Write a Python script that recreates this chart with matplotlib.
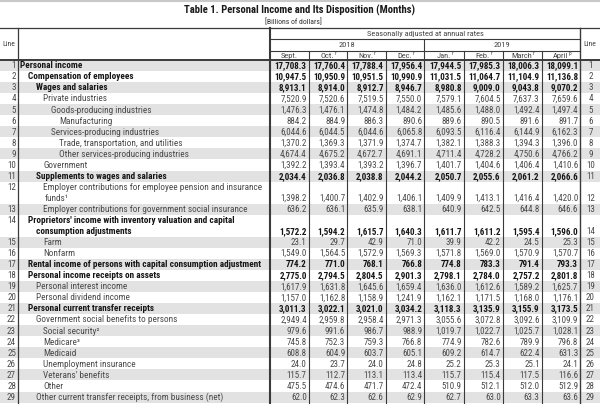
import matplotlib
matplotlib.use('Agg')
import matplotlib.pyplot as plt
from matplotlib import font_manager as fm
from matplotlib.patches import Rectangle

# ---------------- data ----------------
line_nums = list(range(1, 30))
labels = [
    "Personal income",
    "Compensation of employees",
    "Wages and salaries",
    "Private industries",
    "Goods-producing industries",
    "Manufacturing",
    "Services-producing industries",
    "Trade, transportation, and utilities",
    "Other services-producing industries",
    "Government",
    "Supplements to wages and salaries",
    "Employer contributions for employee pension and insurance\nfunds\u00b9",
    "Employer contributions for government social insurance",
    "Proprietors' income with inventory valuation and capital\nconsumption adjustments",
    "Farm",
    "Nonfarm",
    "Rental income of persons with capital consumption adjustment",
    "Personal income receipts on assets",
    "Personal interest income",
    "Personal dividend income",
    "Personal current transfer receipts",
    "Government social benefits to persons",
    "Social security\u00b2",
    "Medicare\u00b3",
    "Medicaid",
    "Unemployment insurance",
    "Veterans' benefits",
    "Other",
    "Other current transfer receipts, from business (net)",
]
levels = [0, 1, 2, 3, 4, 5, 4, 5, 5, 3, 2, 3, 3, 1, 3, 3, 1, 1, 2, 2, 1, 2, 3, 3, 3, 3, 3, 3, 2]
bold_rows = [1, 2, 3, 11, 14, 17, 18, 21]

months = ["Sept.", "Oct.", "Nov.", "Dec.", "Jan.", "Feb.", "March", "April"]
month_marks = ["", "r", "r", "r", "r", "r", "r", "p"]
years = ["2018", "2019"]

sept = [17708.3, 10947.5, 8913.1, 7520.9, 1476.3, 884.2, 6044.6, 1370.2, 4674.4, 1392.2, 2034.4, 1398.2, 636.2, 1572.2, 23.1, 1549.0, 774.2, 2775.0, 1617.9, 1157.0, 3011.3, 2949.4, 979.6, 745.8, 608.8, 24.0, 115.7, 475.5, 62.0]
octo = [17760.4, 10950.9, 8914.0, 7520.6, 1476.1, 884.9, 6044.5, 1369.3, 4675.2, 1393.4, 2036.8, 1400.7, 636.1, 1594.2, 29.7, 1564.5, 771.0, 2794.5, 1631.8, 1162.8, 3022.1, 2959.8, 991.6, 752.3, 604.9, 23.7, 112.7, 474.6, 62.3]
nov = [17788.4, 10951.5, 8912.7, 7519.5, 1474.8, 886.3, 6044.6, 1371.9, 4672.7, 1393.2, 2038.8, 1402.9, 635.9, 1615.7, 42.9, 1572.9, 768.1, 2804.5, 1645.6, 1158.9, 3021.0, 2958.4, 986.7, 759.3, 603.7, 24.0, 113.1, 471.7, 62.6]
dec = [17956.4, 10990.9, 8946.7, 7550.0, 1484.2, 890.6, 6065.8, 1374.7, 4691.1, 1396.7, 2044.2, 1406.1, 638.1, 1640.3, 71.0, 1569.3, 766.8, 2901.3, 1659.4, 1241.9, 3034.2, 2971.3, 988.9, 766.8, 605.1, 24.8, 113.4, 472.4, 62.9]
jan = [17944.5, 11031.5, 8980.8, 7579.1, 1485.6, 889.6, 6093.5, 1382.1, 4711.4, 1401.7, 2050.7, 1409.9, 640.9, 1611.7, 39.9, 1571.8, 774.8, 2798.1, 1636.0, 1162.1, 3118.3, 3055.6, 1019.7, 774.9, 609.2, 25.2, 115.7, 510.9, 62.7]
feb = [17985.3, 11064.7, 9009.0, 7604.5, 1488.0, 890.5, 6116.4, 1388.3, 4728.2, 1404.6, 2055.6, 1413.1, 642.5, 1611.2, 42.2, 1569.0, 783.3, 2784.0, 1612.6, 1171.5, 3135.9, 3072.8, 1022.7, 782.6, 614.7, 25.3, 115.4, 512.1, 63.0]
mar = [18006.3, 11104.9, 9043.8, 7637.3, 1492.4, 891.6, 6144.9, 1394.3, 4750.6, 1406.4, 2061.2, 1416.4, 644.8, 1595.4, 24.5, 1570.9, 791.4, 2757.2, 1589.2, 1168.0, 3155.9, 3092.6, 1025.7, 789.9, 622.4, 25.1, 117.5, 512.0, 63.3]
apr = [18099.1, 11136.8, 9070.2, 7659.6, 1497.4, 891.7, 6162.3, 1396.0, 4766.2, 1410.6, 2066.6, 1420.0, 646.6, 1596.0, 25.3, 1570.7, 793.3, 2801.8, 1625.7, 1176.1, 3173.5, 3109.9, 1028.1, 796.8, 631.3, 24.1, 116.6, 512.9, 63.6]
series = [sept, octo, nov, dec, jan, feb, mar, apr]

title = "Table 1. Personal Income and Its Disposition (Months)"
subtitle = "[Billions of dollars]"
header_top = "Seasonally adjusted at annual rates"

# ---------------- fonts ----------------
names = {f.name for f in fm.fontManager.ttflist}
def pick(cands):
    for c in cands:
        if c in names:
            return c
    return 'DejaVu Sans'
NARROW = pick(['Liberation Sans Narrow', 'DejaVu Sans Condensed', 'Roboto Condensed',
               'Liberation Sans'])
FAM = [NARROW, 'DejaVu Sans']

# ---------------- layout ----------------
W, H = 600, 404
fig = plt.figure(figsize=(6, 4.04), dpi=100)
ax = fig.add_axes([0, 0, 1, 1])
ax.set_xlim(0, W)
ax.set_ylim(H, 0)
ax.axis('off')

LINE_C = '#3a3a3a'
SHADE = '#e2e2e2'
x_line = 18
x_lab = 270
col_edges = [270, 308.5, 347, 385.5, 424, 463.5, 502.5, 541.5, 580]
y_top, y_r1, y_r2, y_hb = 27.5, 39.0, 50.5, 60.0
rh = 11.05
FS_LAB = 6.7
FS_NUM = 6.5
C_BOLD = '#151515'
C_NORM = '#4a4a4a'

# title
ax.text(W / 2, 10.5, title, ha='center', va='center', fontsize=7.7, fontweight='bold',
        family=FAM, color='#1a1a1a')
ax.text(W / 2 - 7, 21.5, subtitle, ha='center', va='center', fontsize=5.6, family=FAM, color='#333333')
ax.plot([0, W], [0.8, 0.8], color='#c8c8c8', lw=1.5)

# row geometry
units = [2 if r in (12, 14) else 1 for r in line_nums]
tops = []
y = y_hb
for u in units:
    tops.append(y)
    y += u * rh
y_bottom = y

# shading
for r, t, u in zip(line_nums, tops, units):
    if r % 2 == 1:
        ax.add_patch(Rectangle((0, t), W, u * rh, color=SHADE, lw=0, zorder=0))

# grid lines
ax.plot([0, W], [y_top, y_top], color=LINE_C, lw=0.9)
ax.plot([0, W], [y_hb, y_hb], color=LINE_C, lw=1.4)
ax.plot([x_lab, col_edges[-1]], [y_r1, y_r1], color=LINE_C, lw=0.8)
ax.plot([x_lab, col_edges[-1]], [y_r2, y_r2], color=LINE_C, lw=0.8)
ax.plot([x_line, x_line], [y_top, y_bottom], color=LINE_C, lw=0.9)
ax.plot([x_lab, x_lab], [y_top, y_bottom], color=LINE_C, lw=1.5)
ax.plot([col_edges[-1], col_edges[-1]], [y_top, y_bottom], color=LINE_C, lw=1.0)
for i, xe in enumerate(col_edges[1:-1], start=1):
    y0 = y_r1 if i == 4 else y_r2
    ax.plot([xe, xe], [y0, y_bottom], color=LINE_C, lw=0.8)

# header text
ax.text(9, (y_top + y_hb) / 2, "Line", ha='center', va='center', fontsize=5.6, family=FAM, color='#444')
ax.text(590, (y_top + y_hb) / 2, "Line", ha='center', va='center', fontsize=5.6, family=FAM, color='#444')
ax.text((x_lab + col_edges[-1]) / 2, (y_top + y_r1) / 2 + 0.3, header_top, ha='center', va='center',
        fontsize=6.0, family=FAM, color='#444')
ax.text((col_edges[0] + col_edges[4]) / 2, (y_r1 + y_r2) / 2 + 0.3, years[0], ha='center', va='center',
        fontsize=6.0, family=FAM, color='#444')
ax.text((col_edges[4] + col_edges[8]) / 2, (y_r1 + y_r2) / 2 + 0.3, years[1], ha='center', va='center',
        fontsize=6.0, family=FAM, color='#444')
fig.canvas.draw()
renderer = fig.canvas.get_renderer()
for i, (m, mk) in enumerate(zip(months, month_marks)):
    cx = (col_edges[i] + col_edges[i + 1]) / 2
    ym = (y_r2 + y_hb) / 2 + 0.4
    t = ax.text(cx, ym, m, ha='center', va='center', fontsize=6.0, family=FAM, color='#444')
    if mk:
        bb = t.get_window_extent(renderer=renderer)
        xr = ax.transData.inverted().transform((bb.x1, 0))[0]
        ax.text(xr + 0.3, ym - 2.2, mk, ha='left', va='center', fontsize=3.8, family=FAM, color='#444')

# body
for idx, r in enumerate(line_nums):
    t, u = tops[idx], units[idx]
    first_c = t + rh / 2 + 0.3
    last_c = t + (u - 0.5) * rh + 0.3
    bold = r in bold_rows
    fw = 'bold' if bold else 'normal'
    col = C_BOLD if bold else C_NORM
    ax.text(16, first_c, str(r), ha='right', va='center', fontsize=FS_NUM, family=FAM, color=C_NORM)
    ax.text(590.5, last_c, str(r), ha='center', va='center', fontsize=FS_NUM, family=FAM, color=C_NORM)
    xl = 20 + 7.8 * levels[idx]
    parts = labels[idx].split('\n')
    ax.text(xl, first_c, parts[0], ha='left', va='center', fontsize=FS_LAB, family=FAM,
            fontweight=fw, color=col)
    if len(parts) > 1:
        xl2 = xl + (8 if r == 14 else 1.5)
        ax.text(xl2, first_c + rh, parts[1], ha='left', va='center', fontsize=FS_LAB, family=FAM,
                fontweight=fw, color=col)
    for j, s in enumerate(series):
        ax.text(col_edges[j + 1] - 1.8, last_c, f"{s[idx]:,.1f}", ha='right', va='center',
                fontsize=FS_NUM, family=FAM, fontweight=fw, color=col)

fig.savefig('out.png', dpi=100)
